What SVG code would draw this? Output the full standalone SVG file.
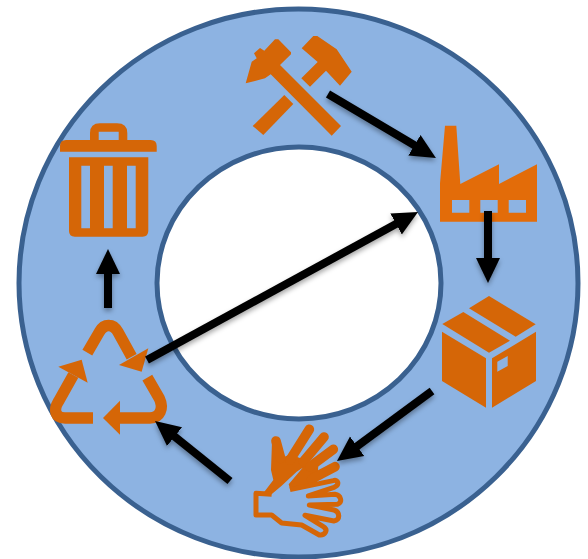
<svg xmlns="http://www.w3.org/2000/svg" width="588" height="559" viewBox="0 0 588 559">
<style>
.ic{fill:#D56607}
.fa{fill:#E36C09}
.ln{fill:none;stroke:#D56607;stroke-linecap:butt;stroke-linejoin:round}
.ar{fill:none;stroke:#000;stroke-width:8;marker-end:url(#h)}
</style>
<defs>
<marker id="h" markerUnits="userSpaceOnUse" markerWidth="26" markerHeight="26" refX="3" refY="13" orient="auto"><path d="M0,1L25,13L0,25Z" fill="#000"/></marker>
<filter id="s" x="-20%" y="-20%" width="140%" height="140%"><feDropShadow dx="0" dy="3" stdDeviation="2.500" flood-color="#000" flood-opacity=".35"/></filter>
</defs>
<rect width="588" height="559" fill="#fff"/>
<g id="ring">
<path fill-rule="evenodd" d="M19,283a279.5,274 0 1 0 559,0a279.5,274 0 1 0 -559,0ZM157,283a142,136 0 1 0 284,0a142,136 0 1 0 -284,0Z" fill="#8DB3E2"/>
<ellipse cx="298.500" cy="283" rx="279.500" ry="274" fill="none" stroke="#3A6190" stroke-width="5"/>
<ellipse cx="299" cy="283" rx="142" ry="136" fill="none" stroke="#3A6190" stroke-width="5"/>
</g>
<g id="tools">
<path class="ic" d="M245.700,83.300L251.700,61.700L256.700,58.300L254,53.300L260,48L264.300,50.700L275,39.300L278.300,39.300L291,52.300L291,54.300L280,65L341,126L331.700,135.700L270.700,74.300L265,78.300Z"/>
<path class="ic" d="M301.700,48.300L313.300,36L317.300,36L336.700,49.300L351.700,71.700L340,85.700L326,70.700L310,86.700L301.300,78.300L317.700,62Z"/>
<path class="ic" d="M284.300,95L293.300,104L263.300,135L252.700,126Z"/>
</g>
<g id="factory">
<path class="fa" fill-rule="evenodd" d="M440,221.700L440,183.300L445,125.700L456.300,125.700L460.300,184L499,164.300L499,184L537,164.300L537,221.700ZM452,200V212.700H469.300V200ZM480.300,200V212.700H497.700V200ZM508.700,200V212.700H526V200Z"/>
</g>
<g id="box">
<path class="ic" d="M463.300,312L510,340.700L489,352.700L442.300,324Z"/>
<path class="ic" d="M489,296L535.700,324.300L515.700,336.700L469,308.300Z"/>
<path class="ic" d="M442,331.700L486,358.300L486,407.700L442,381Z"/>
<path class="ic" fill-rule="evenodd" d="M492,358.300L536,331.700L536,381L492,407.700ZM497.300,361.700V371.700L507.700,366V356Z"/>
</g>
<g id="hands" transform="translate(240,415) scale(.3333)">
<path class="ic" d="M96,80L118,75L134,125L150,118L235,150L232,200L150,222L146,208L188,158L170,170L125,212L92,240L72,232L100,195L93,165Z"/>
<g fill="none" stroke="#D56607" stroke-width="29" stroke-linecap="round">
<path d="M108,78L122,130"/>
<path d="M208,43L150,135"/>
<path d="M252,66L190,140"/>
<path d="M280,103L210,155"/>
<path d="M285,155L215,192"/>
</g>
<path class="ln" stroke-width="15" d="M95,238L48,235V300H95L125,324L185,330L238,360C255,362 266,345 250,335L195,301L282,318C302,316 300,290 282,285L208,270L292,268C310,262 302,240 285,238L205,243L282,217C300,210 295,192 280,197L150,224"/>
</g>
<g id="recycle" transform="translate(40,310) scale(.3333)">
<path class="ln" stroke-width="34" d="M142,128L178,66C192,40 220,40 234,66L275,140"/>
<path class="ic" d="M325,115L305,185L237,165Z"/>
<path class="ln" stroke-width="34" d="M159,324H75C45,324 40,300 55,275L100,195"/>
<path class="ic" d="M125,149L143,218L55,170Z"/>
<path class="ln" stroke-width="34" d="M322,203L358,265C372,295 360,324 330,324H230"/>
<path class="ic" d="M189,324L240,272V374Z"/>
</g>
<g id="trash">
<path class="ic" fill-rule="evenodd" d="M90,140V133Q90,123.300 100,123.300H117Q127.300,123.300 127.300,133V140H150.700Q156.700,140 156.700,146V151.700H60V146Q60,140 66,140ZM98.700,131.700V140H118.700V131.700Z"/>
<path class="ic" fill-rule="evenodd" d="M69,157.300H148.300V231Q148.300,236.700 142.500,236.700H74.800Q69,236.700 69,231ZM81.300,165.700V228.300H90V165.700ZM104,165.700V228.300H112.700V165.700ZM127,165.700V228.300H135.700V165.700Z"/>
</g>
<g id="connectors" filter="url(#s)">
<path class="ar" d="M328,94L417,146.800"/>
<path class="ar" d="M488,211V261"/>
<path class="ar" d="M432,391L354.700,448"/>
<path class="ar" d="M230,481L172.200,434.700"/>
<path class="ar" d="M108,308V271"/>
<path class="ar" d="M147,360L398.700,222.500"/>
</g>
</svg>
